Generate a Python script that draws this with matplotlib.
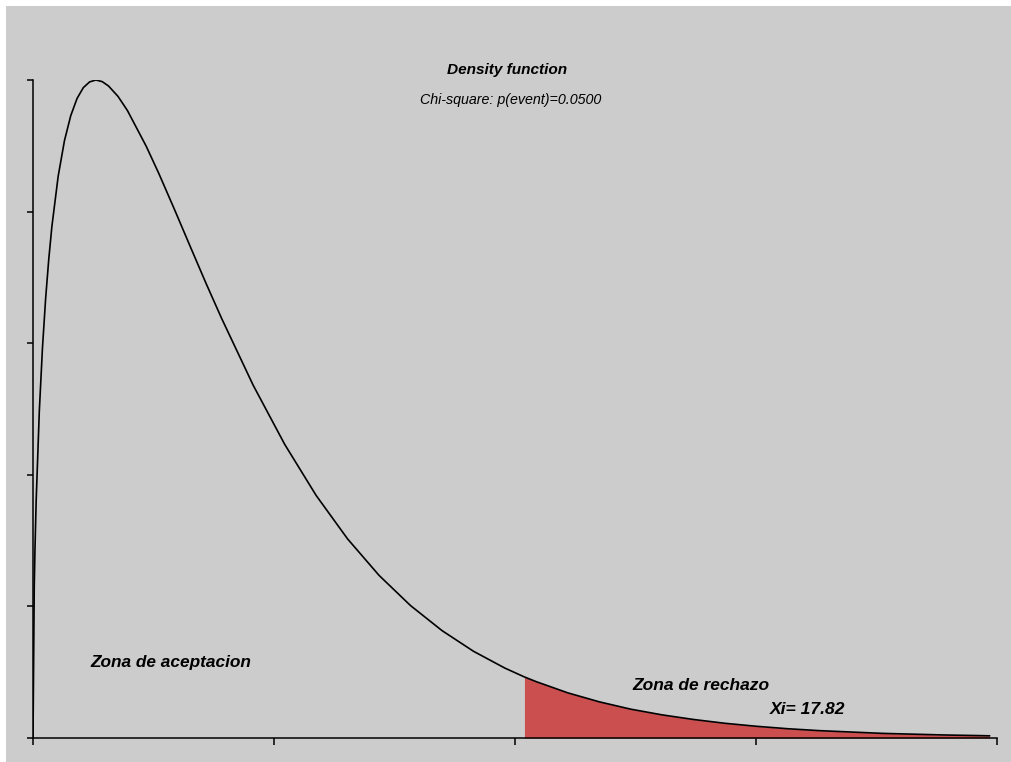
import matplotlib.pyplot as plt
from matplotlib.patches import Rectangle

plt.rcParams['font.family'] = ['Liberation Sans', 'DejaVu Sans']

# chi-square density (3 d.o.f.)
x_vals = [0, 0.02, 0.03, 0.05, 0.1, 0.15, 0.2, 0.25, 0.3, 0.4, 0.5, 0.6, 0.7,
          0.8, 0.9, 1.0, 1.1, 1.2, 1.35, 1.5, 1.8, 2.0, 2.25, 2.5, 2.75, 3.0,
          3.5, 4.0, 4.5, 5.0, 5.5, 6.0, 6.5, 7.0, 7.5, 7.81, 8.0, 8.5, 9.0,
          9.5, 10.0, 10.5, 11.0, 11.5, 12.0, 12.5, 13.0, 13.5, 14.0, 14.5,
          15.0, 15.2]
y_vals = [0, 0.0559, 0.0681, 0.0870, 0.1200, 0.1433, 0.1614, 0.1760, 0.1881,
          0.2066, 0.2197, 0.2289, 0.2352, 0.2392, 0.2413, 0.2420, 0.2414,
          0.2398, 0.2360, 0.2308, 0.2176, 0.2076, 0.1943, 0.1807, 0.1672,
          0.1542, 0.1297, 0.1080, 0.0892, 0.0732, 0.0598, 0.0487, 0.0395,
          0.0319, 0.0257, 0.02245, 0.0207, 0.0166, 0.0133, 0.0106, 0.0085,
          0.0068, 0.0054, 0.0043, 0.0034, 0.0027, 0.0022, 0.0017, 0.0014,
          0.0011, 0.0009, 0.0008]
critical = 7.81
x_max = 15.32
y_max = 0.2420

W, H = 1012, 762
fig = plt.figure(figsize=(W / 100, H / 100), dpi=100)
fig.patch.set_facecolor('white')
fig.add_artist(Rectangle((6 / W, 0), 1 - 6 / W, 1 - 6 / H,
                         transform=fig.transFigure, facecolor='#cccccc',
                         edgecolor='none', zorder=0))

ax = fig.add_axes([33 / W, (H - 738) / H, 964 / W, 658 / H])
ax.set_facecolor('none')

ax.plot(x_vals, y_vals, color='black', lw=1.2, zorder=3)
ax.fill_between(x_vals, y_vals, 0, where=[v >= critical for v in x_vals],
                color='#cc4f4f', lw=0, zorder=2)

ax.set_xlim(0, x_max)
ax.set_ylim(0, y_max)
ax.set_xticks([x_max * i / 4 for i in range(5)])
ax.set_yticks([y_max * i / 5 for i in range(6)])
ax.set_xticklabels([])
ax.set_yticklabels([])
ax.tick_params(axis='x', direction='out', length=5, width=1.1, color='black')
ax.tick_params(axis='y', direction='out', length=4.5, width=1.1, color='black')
for s in ['top', 'right']:
    ax.spines[s].set_visible(False)
for s in ['left', 'bottom']:
    ax.spines[s].set_linewidth(1.1)
    ax.spines[s].set_color('black')
    ax.spines[s].set_zorder(4)


def ftext(px, py, s, **kw):
    fig.text(px / W, 1 - py / H, s, va='center', **kw)


ftext(507, 70, 'Density function', ha='center', fontsize=11.1,
      fontweight='bold', style='italic')
ftext(511, 100, 'Chi-square: p(event)=0.0500', ha='center', fontsize=10.3,
      style='italic')
ftext(90, 663, 'Zona de aceptacion', ha='left', fontsize=12.4,
      fontweight='bold', style='italic')
ftext(632, 685, 'Zona de rechazo', ha='left', fontsize=12.5,
      fontweight='bold', style='italic')
ftext(770, 709, 'Xi= 17.82', ha='left', fontsize=12.6,
      fontweight='bold', style='italic')

plt.savefig('out.png', dpi=100)
